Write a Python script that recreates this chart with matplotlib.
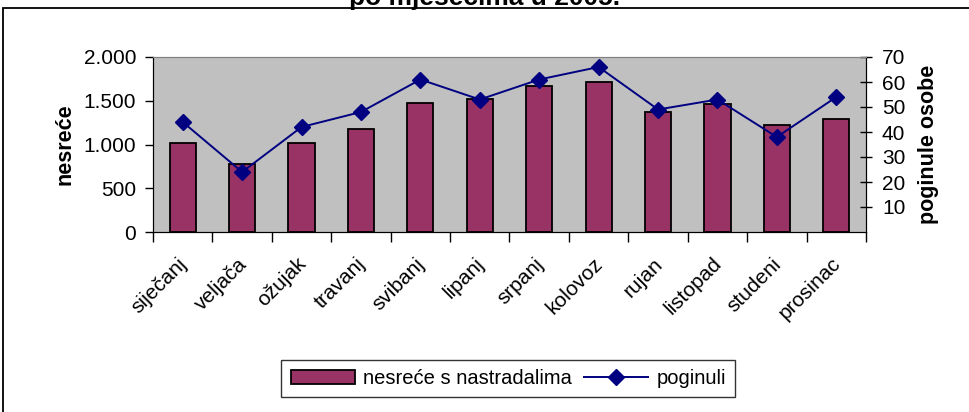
import numpy as np
import matplotlib.pyplot as plt
import matplotlib.transforms as mtransforms
from matplotlib.patches import Rectangle

plt.rcParams['font.family'] = ['Liberation Sans', 'DejaVu Sans']

mjeseci = ['siječanj', 'veljača', 'ožujak', 'travanj', 'svibanj', 'lipanj',
           'srpanj', 'kolovoz', 'rujan', 'listopad', 'studeni', 'prosinac']
nesrece = [1015, 780, 1015, 1177, 1471, 1517, 1672, 1718, 1375, 1463, 1223, 1291]
poginuli = [44, 24, 42, 48, 61, 53, 61, 66, 49, 53, 38, 54]

fig = plt.figure(figsize=(9.7, 4.12), dpi=100)
ax = fig.add_axes([153/970, 1 - 232/412, 713/970, 175/412])
ax2 = ax.twinx()

x = np.arange(len(mjeseci))
ax.bar(x, nesrece, width=0.44, color='#993366', edgecolor='black', linewidth=1.3,
       label='nesreće s nastradalima', zorder=2)
ax2.plot(x, poginuli, color='#000080', marker='D', markersize=8, linewidth=1.4,
         label='poginuli')

ax.set_facecolor('#C0C0C0')
ax.set_xlim(-0.5, len(mjeseci) - 0.5)
ax.set_ylim(0, 2000)
ax.set_yticks([0, 500, 1000, 1500, 2000])
ax.set_yticklabels(['0', '500', '1.000', '1.500', '2.000'])
ax2.set_ylim(0, 70)
ax2.set_yticks([10, 20, 30, 40, 50, 60, 70])

ax.set_xticks(x)
ax.set_xticklabels(mjeseci, rotation=45, ha='right', rotation_mode='anchor')
ax.set_xticks(np.arange(-0.5, len(mjeseci)), minor=True)
ax.tick_params(axis='x', which='major', length=0, labelsize=15, pad=16)
ax.tick_params(axis='x', which='minor', length=7, width=1, direction='out')
ax.tick_params(axis='y', labelsize=15, length=6, width=1, direction='out', pad=6)
ax2.tick_params(axis='y', labelsize=15, length=9, width=1, direction='inout', pad=7)

# month labels sit slightly left of the category centre
shift = mtransforms.ScaledTranslation(-5/100, 0, fig.dpi_scale_trans)
for lbl in ax.get_xticklabels():
    lbl.set_transform(lbl.get_transform() + shift)

for a in (ax, ax2):
    a.spines['top'].set_color('#808080')
    a.spines['left'].set_color('black')
    a.spines['bottom'].set_color('black')
    a.spines['right'].set_color('black')

ax.set_ylabel('nesreće', fontsize=15.5, fontweight='bold', labelpad=6)
ax2.set_ylabel('poginule osobe', fontsize=15.5, fontweight='bold', labelpad=9)

fig.text(0.5, 1 - 5/412, 'po mjesecima u 2005.', ha='center', va='baseline',
         fontsize=19, fontweight='bold')
fig.patches.append(Rectangle((3/970, -0.1), 1.1, 1 - 8/412 + 0.1, transform=fig.transFigure,
                             fill=False, edgecolor='black', linewidth=1.3))

h1, l1 = ax.get_legend_handles_labels()
h2, l2 = ax2.get_legend_handles_labels()
leg = fig.legend(h1 + h2, l1 + l2, loc='center', bbox_to_anchor=(0.524, 0.081), ncol=2,
                 fontsize=14.5, frameon=True, fancybox=False, edgecolor='black',
                 handlelength=3.2, columnspacing=0.6, handletextpad=0.4, borderpad=0.45)
leg.get_frame().set_linewidth(1)

fig.savefig('out.png', dpi=100)
